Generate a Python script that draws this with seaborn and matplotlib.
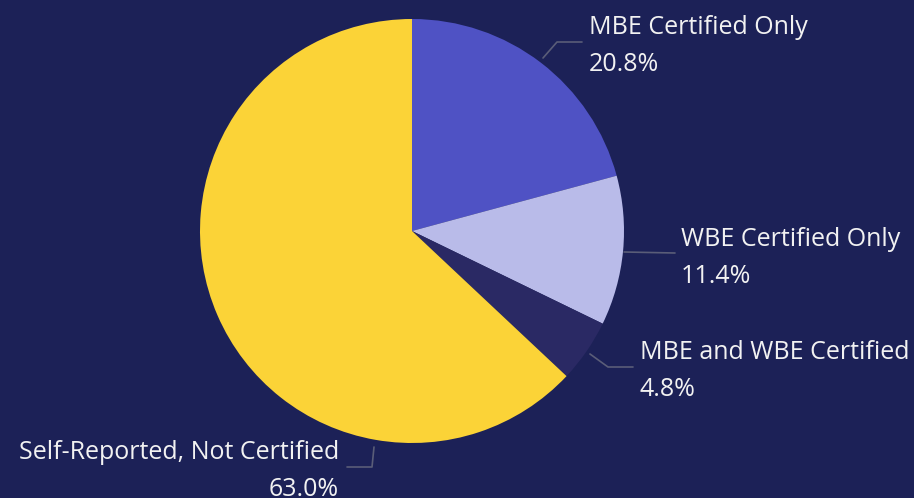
import matplotlib
matplotlib.use("Agg")
import matplotlib.pyplot as plt
import seaborn as sns

sns.set_theme(style="white")
plt.rcParams['font.family'] = ['Open Sans', 'DejaVu Sans']

categories = ["MBE Certified Only", "WBE Certified Only", "MBE and WBE Certified", "Self-Reported, Not Certified"]
values = [20.8, 11.4, 4.8, 63.0]
colors = ["#4f52c4", "#b9bbe9", "#2a2964", "#fbd337"]
bg = "#1c2157"

W, H = 914, 498
fig = plt.figure(figsize=(W / 100, H / 100), dpi=100, facecolor=bg)
cx, cy, R = 412, 231, 212
ax = fig.add_axes([(cx - R) / W, (H - cy - R) / H, 2 * R / W, 2 * R / H])
ax.set_facecolor(bg)
ax.pie(values, colors=colors, startangle=90, counterclock=False, radius=1,
       wedgeprops=dict(linewidth=0))
ax.set_xlim(-1, 1)
ax.set_ylim(-1, 1)
ax.set_aspect('equal')
ax.axis('off')

def d(px, py):
    return ((px - cx) / R, (cy - py) / R)

# leader lines (pixel layout) and label anchors
leaders = [
    [(543, 58), (557, 42), (582, 42)],
    [(624, 252), (675, 253)],
    [(590, 354), (608, 367), (633, 367)],
    [(374, 447), (372, 467), (347, 467)],
]
anchors = [((589, 46), 'left'), ((681, 258), 'left'), ((640, 371), 'left'), ((339, 471), 'right')]

for cat, val, pts, (pos, ha) in zip(categories, values, leaders, anchors):
    xs, ys = zip(*[d(*p) for p in pts])
    ax.plot(xs, ys, color="#5a5d78", lw=1.2, clip_on=False)
    ax.text(*d(*pos), f"{cat}\n{val:.1f}%", color="#f2f2f2", fontsize=18,
            ha=ha, va='center', multialignment=ha, linespacing=1.6, clip_on=False)

fig.savefig("out.png", dpi=100, facecolor=bg)
